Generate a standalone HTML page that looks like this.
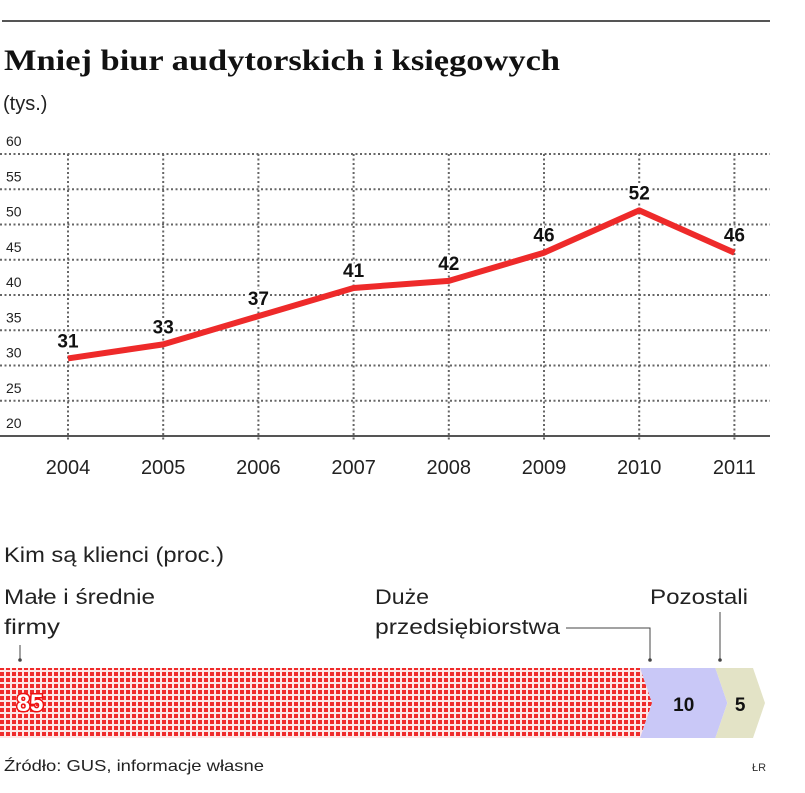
<!DOCTYPE html>
<html><head><meta charset="utf-8"><style>
body{margin:0;background:#fff;}
svg text{font-family:"Liberation Sans",sans-serif;}
</style></head><body>
<svg width="805" height="788" viewBox="0 0 805 788" xmlns="http://www.w3.org/2000/svg">
<defs>
<pattern id="dots" width="6" height="6" patternUnits="userSpaceOnUse">
<rect width="6" height="6" fill="#fde6e6"/>
<rect x="0" y="0" width="4" height="4" fill="#ef2b2b"/>
</pattern>
</defs>
<line x1="2" y1="21" x2="770" y2="21" stroke="#555" stroke-width="2"/>
<text x="4" y="70" font-weight="bold" font-size="30" fill="#111" textLength="556" lengthAdjust="spacingAndGlyphs" style="font-family:'Liberation Serif',serif">Mniej biur audytorskich i księgowych</text>
<text x="3" y="110" font-size="20" fill="#222">(tys.)</text>
<g id="grid"></g>
<g id="series"></g>
<text x="4" y="562" font-size="21" fill="#222" textLength="220" lengthAdjust="spacingAndGlyphs">Kim są klienci (proc.)</text>
<text x="4" y="604" font-size="21" fill="#222" textLength="151" lengthAdjust="spacingAndGlyphs">Małe i średnie</text>
<text x="4" y="634" font-size="21" fill="#222" textLength="56" lengthAdjust="spacingAndGlyphs">firmy</text>
<line x1="20" y1="645" x2="20" y2="660" stroke="#444"/>
<circle cx="20" cy="660" r="1.8" fill="#444"/>
<text x="375" y="604" font-size="21" fill="#222" textLength="54" lengthAdjust="spacingAndGlyphs">Duże</text>
<text x="375" y="634" font-size="21" fill="#222" textLength="185" lengthAdjust="spacingAndGlyphs">przedsiębiorstwa</text>
<polyline points="566,628 650,628 650,660" fill="none" stroke="#444"/>
<circle cx="650" cy="660" r="1.8" fill="#444"/>
<text x="650" y="604" font-size="21" fill="#222" textLength="98" lengthAdjust="spacingAndGlyphs">Pozostali</text>
<line x1="720" y1="612" x2="720" y2="660" stroke="#444"/>
<circle cx="720" cy="660" r="1.8" fill="#444"/>
<g id="bar"></g>
<text x="4" y="771" font-size="16" fill="#222" textLength="260" lengthAdjust="spacingAndGlyphs">Źródło: GUS, informacje własne</text>
<text x="752" y="771" font-size="11" fill="#333">ŁR</text>
</svg>
<script>
const years=['2004','2005','2006','2007','2008','2009','2010','2011'];
const values=[31,33,37,41,42,46,52,46];
const yTicks=[60,55,50,45,40,35,30,25,20];
const shares=[85,10,5];
const shareLabels=['85','10','5'];
const NS='http://www.w3.org/2000/svg';
function mk(t,a,p){const e=document.createElementNS(NS,t);for(const k in a)e.setAttribute(k,a[k]);p.appendChild(e);return e;}
const xS=i=>68+i*95.2;
const yS=v=>436-(v-20)*7.05;
const grid=document.getElementById('grid');
yTicks.forEach(v=>{
  if(v>20){const l=mk('line',{x1:0,x2:770,y1:yS(v),y2:yS(v),stroke:'#666','stroke-width':2,'stroke-dasharray':'2 2.5'},grid);
  
  }
  const t=mk('text',{x:6,y:yS(v)-8,'font-size':14,fill:'#222'},grid);t.textContent=v;
  
  
});
years.forEach((y,i)=>{
  const l=mk('line',{x1:xS(i),x2:xS(i),y1:yS(60),y2:yS(20)+6,stroke:'#666','stroke-width':2,'stroke-dasharray':'2 2.5'},grid);
  
  
  const t=mk('text',{x:xS(i),y:474,'font-size':20,fill:'#222','text-anchor':'middle'},grid);t.textContent=y;
  
  
});
const ax=mk('line',{x1:0,x2:770,y1:yS(20),y2:yS(20),stroke:'#555','stroke-width':2},grid);


const s=document.getElementById('series');
const pl=mk('polyline',{points:values.map((v,i)=>xS(i)+','+yS(v)).join(' '),fill:'none',stroke:'#ee2a2a','stroke-width':6,'stroke-linejoin':'round'},s);


values.forEach((v,i)=>{
  const t=mk('text',{x:xS(i),y:yS(v)-11,'font-size':19,'font-weight':'bold',fill:'#111','text-anchor':'middle',stroke:'#fff','stroke-width':4,'paint-order':'stroke'},s);t.textContent=v;
  
  
});
const bg=document.getElementById('bar');
const bx0=0,wTot=765,bTop=668,bBot=738,bMid=(bTop+bBot)/2,tip=12;
const fills=['url(#dots)','#c9c8f7','#e3e3c6'];
let cx=bx0;const total=shares.reduce((a,c)=>a+c,0);
const segW=shares.map(v=>v/total*(wTot-tip));
segW.forEach((w,i)=>{
  const x1=cx,x2=cx+w;
  const pts=i===0?`${x1},${bTop} ${x2},${bTop} ${x2+tip},${bMid} ${x2},${bBot} ${x1},${bBot}`:`${x1},${bTop} ${x2},${bTop} ${x2+tip},${bMid} ${x2},${bBot} ${x1},${bBot} ${x1+tip},${bMid}`;
  const p=mk('polygon',{points:pts,fill:fills[i]},bg);
  
  
  const tx=i===0?30:(x1+x2+tip)/2;
  const t=mk('text',{x:tx,y:bMid+8,'font-size':i===0?24:19,'font-weight':'bold',fill:i===0?'#fff':'#111','text-anchor':'middle',stroke:i===0?'#e11':'none','stroke-width':i===0?3:0,'paint-order':'stroke'},bg);t.textContent=shareLabels[i];
  
  
  cx=x2;
});
</script>
</body></html>
